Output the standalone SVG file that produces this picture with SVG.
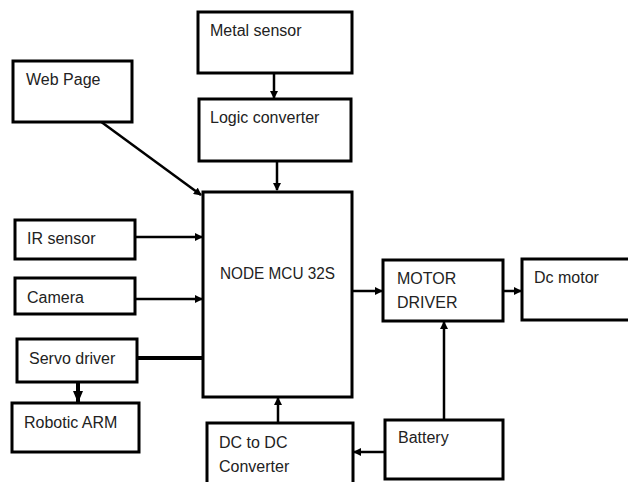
<svg xmlns="http://www.w3.org/2000/svg" width="628" height="482" viewBox="0 0 628 482">
<defs>
<style>
.box{fill:#fff;stroke:#000;stroke-width:3}
.t{font-family:"Liberation Sans",Arial,sans-serif;font-size:16px;fill:#222}
.c{stroke:#000;stroke-width:2.5;fill:none}
.thick{stroke:#000;stroke-width:4;fill:none}
</style>
<marker id="ah" markerWidth="8" markerHeight="8" refX="7" refY="4" orient="auto" markerUnits="userSpaceOnUse">
<path d="M0,0 L8,4 L0,8 Z" fill="#000"/>
</marker>
<marker id="ahb" markerWidth="12" markerHeight="10" refX="11" refY="5" orient="auto" markerUnits="userSpaceOnUse">
<path d="M0,0 L12,5 L0,10 Z" fill="#000"/>
</marker>
</defs>
<rect width="628" height="482" fill="#fff"/>
<g id="connectors">
<line class="c" x1="274" y1="73" x2="274" y2="98" marker-end="url(#ah)"/>
<line class="c" x1="277" y1="161" x2="277" y2="190" marker-end="url(#ah)"/>
<line class="c" x1="100" y1="121" x2="201" y2="195" marker-end="url(#ah)"/>
<line class="c" x1="135" y1="237" x2="202" y2="237" marker-end="url(#ah)"/>
<line class="c" x1="135" y1="299" x2="202" y2="299" marker-end="url(#ah)"/>
<line class="thick" x1="138" y1="358" x2="203" y2="358"/>
<line class="thick" x1="78" y1="382" x2="78" y2="402" marker-end="url(#ahb)"/>
<line class="c" x1="352" y1="291" x2="382" y2="291" marker-end="url(#ah)"/>
<line class="c" x1="503" y1="291" x2="521" y2="291" marker-end="url(#ah)"/>
<line class="c" x1="444" y1="420" x2="444" y2="322" marker-end="url(#ah)"/>
<line class="c" x1="385" y1="452" x2="354" y2="452" marker-end="url(#ah)"/>
<line class="c" x1="278" y1="423" x2="278" y2="398" marker-end="url(#ah)"/>
</g>
<g id="metal-sensor"><rect class="box" x="198" y="12" width="154" height="61"/><text class="t" x="210" y="36">Metal sensor</text></g>
<g id="logic-converter"><rect class="box" x="199" y="99" width="152" height="62"/><text class="t" x="210" y="123">Logic converter</text></g>
<g id="web-page"><rect class="box" x="13" y="61" width="119" height="61"/><text class="t" x="26" y="85">Web Page</text></g>
<g id="node-mcu"><rect class="box" x="203" y="192" width="149" height="205"/><text class="t" x="220" y="279" textLength="115" lengthAdjust="spacingAndGlyphs">NODE MCU 32S</text></g>
<g id="ir-sensor"><rect class="box" x="15" y="220" width="120" height="39"/><text class="t" x="27" y="244">IR sensor</text></g>
<g id="camera"><rect class="box" x="15" y="278" width="120" height="36"/><text class="t" x="27" y="303">Camera</text></g>
<g id="servo-driver"><rect class="box" x="17" y="339" width="120" height="43"/><text class="t" x="29" y="364">Servo driver</text></g>
<g id="robotic-arm"><rect class="box" x="12" y="403" width="127" height="49"/><text class="t" x="24" y="428">Robotic ARM</text></g>
<g id="dc-dc-converter"><rect class="box" x="207" y="423" width="146" height="70"/><text class="t" x="219" y="448">DC to DC</text><text class="t" x="219" y="472">Converter</text></g>
<g id="motor-driver"><rect class="box" x="383" y="260" width="120" height="61"/><text class="t" x="397" y="284">MOTOR</text><text class="t" x="397" y="308">DRIVER</text></g>
<g id="dc-motor"><rect class="box" x="522" y="259" width="120" height="61"/><text class="t" x="534" y="283">Dc motor</text></g>
<g id="battery"><rect class="box" x="385" y="420" width="118" height="59"/><text class="t" x="398" y="443">Battery</text></g>
</svg>
